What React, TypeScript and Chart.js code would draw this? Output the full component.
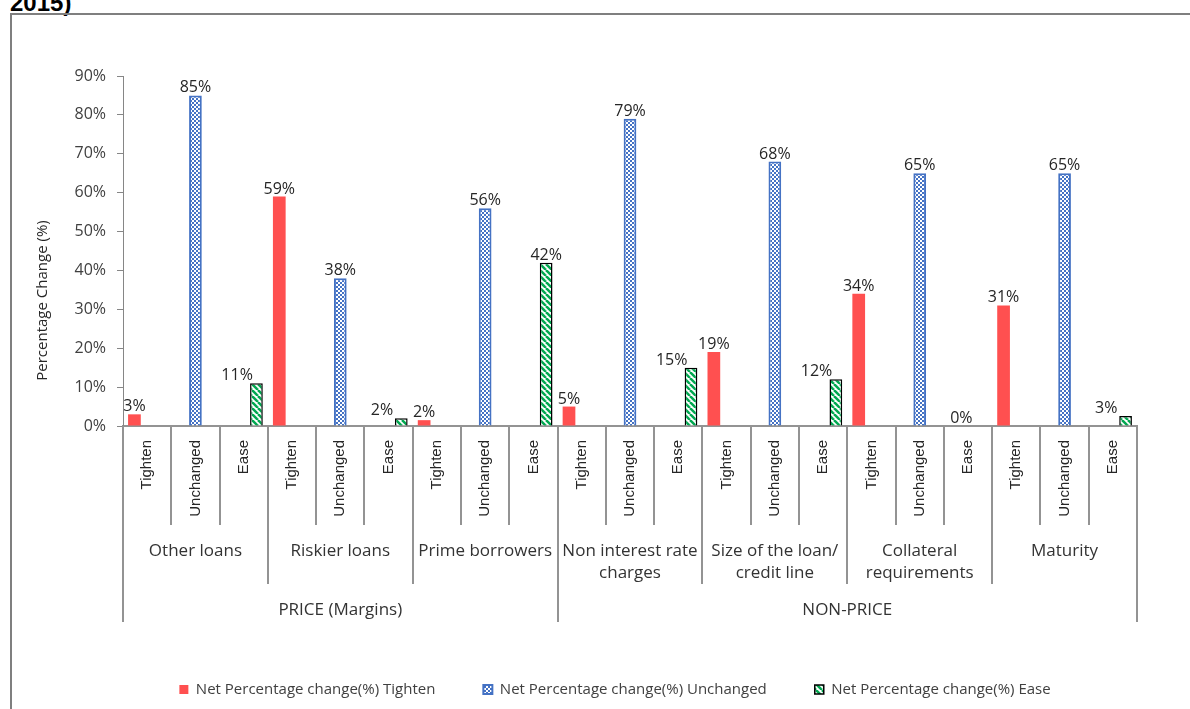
import React, { useEffect, useRef } from "react";
import { Chart, registerables } from "chart.js";

Chart.register(...registerables);

// ---- data ----
const groupLabels: string[][] = [
  ["Other loans"],
  ["Riskier loans"],
  ["Prime borrowers"],
  ["Non interest rate", "charges"],
  ["Size of the loan/", "credit line"],
  ["Collateral", "requirements"],
  ["Maturity"],
];
const subLabels = ["Tighten", "Unchanged", "Ease"];
const sectionLabels = ["PRICE (Margins)", "NON-PRICE"];
const sectionGroupCounts = [3, 4];
const tightenValues = [3, 59, 1.5, 5, 19, 34, 31];
const unchangedValues = [85, 38, 56, 79, 68, 65, 65];
const easeValues = [11, 2, 42, 15, 12, 0, 2.6];
const seriesNames = [
  "Net Percentage change(%) Tighten",
  "Net Percentage change(%) Unchanged",
  "Net Percentage change(%) Ease",
];
const yMax = 90;
const yStep = 10;
const yTitle = "Percentage Change (%)";
const headingText = "2015)";

const FONT = "'Open Sans', sans-serif";

function makeChecker(ctx: CanvasRenderingContext2D) {
  const c = document.createElement("canvas");
  c.width = 4;
  c.height = 4;
  const g = c.getContext("2d")!;
  g.fillStyle = "#4472C4";
  g.fillRect(0, 0, 4, 4);
  g.fillStyle = "#ffffff";
  g.fillRect(0, 0, 2, 2);
  g.fillRect(2, 2, 2, 2);
  return ctx.createPattern(c, "repeat")!;
}

function makeHatch(ctx: CanvasRenderingContext2D) {
  const s = 6;
  const c = document.createElement("canvas");
  c.width = s;
  c.height = s;
  const g = c.getContext("2d")!;
  g.fillStyle = "#ffffff";
  g.fillRect(0, 0, s, s);
  g.strokeStyle = "#00A850";
  g.lineWidth = 2.5;
  for (const k of [-s, 0, s]) {
    g.beginPath();
    g.moveTo(k, 0);
    g.lineTo(k + s, s);
    g.stroke();
  }
  return ctx.createPattern(c, "repeat")!;
}

export default function App() {
  const ref = useRef<HTMLCanvasElement | null>(null);

  useEffect(() => {
    const canvas = ref.current!;
    const ctx = canvas.getContext("2d")!;
    const per = subLabels.length;
    const labels = groupLabels.flatMap(() => subLabels);
    const spread = (vals: number[], slot: number) =>
      vals.flatMap((v) => subLabels.map((_, j) => (j === slot ? v : null)));

    const sectionBounds: number[] = [0];
    sectionGroupCounts.forEach((c) => sectionBounds.push(sectionBounds[sectionBounds.length - 1] + c * per));

    const multiLevel = {
      id: "multiLevel",
      afterDraw(chart: any) {
        const c: CanvasRenderingContext2D = chart.ctx;
        const x = chart.scales.x;
        const y0 = chart.chartArea.bottom;
        const n = labels.length;
        const w = (x.right - x.left) / n;
        c.save();
        c.strokeStyle = "#939393";
        c.lineWidth = 2;
        for (let i = 0; i <= n; i++) {
          const xx = Math.round(x.left + i * w);
          let yEnd = y0 + 99;
          if (sectionBounds.includes(i)) yEnd = y0 + 196;
          else if (i % per === 0) yEnd = y0 + 158;
          c.beginPath();
          c.moveTo(xx, y0);
          c.lineTo(xx, yEnd);
          c.stroke();
        }
        // rotated level-1 labels
        c.fillStyle = "#262626";
        c.font = "15px 'Liberation Sans', sans-serif";
        c.textAlign = "right";
        c.textBaseline = "middle";
        for (let i = 0; i < n; i++) {
          const cx = x.left + (i + 0.5) * w;
          c.save();
          c.translate(cx, y0 + 14);
          c.rotate(-Math.PI / 2);
          c.fillText(labels[i], 0, 0);
          c.restore();
        }
        // group labels
        c.font = `17px ${FONT}`;
        c.fillStyle = "#333333";
        c.textAlign = "center";
        c.textBaseline = "alphabetic";
        groupLabels.forEach((lines, g) => {
          const cx = x.left + (g * per + per / 2) * w;
          lines.forEach((t, li) => c.fillText(t, cx, y0 + 130 + li * 22));
        });
        // section labels
        sectionLabels.forEach((t, s) => {
          const cx = x.left + ((sectionBounds[s] + sectionBounds[s + 1]) / 2) * w;
          c.fillText(t, cx, y0 + 189);
        });
        // y axis title (centred on plot + category rows, as in the source)
        c.save();
        c.font = `15px ${FONT}`;
        c.fillStyle = "#262626";
        c.textAlign = "center";
        c.textBaseline = "middle";
        c.translate(43, (chart.chartArea.top + y0 + 99) / 2);
        c.rotate(-Math.PI / 2);
        c.fillText(yTitle, 0, 0);
        c.restore();
        c.restore();
      },
    };

    const valueLabels = {
      id: "valueLabels",
      afterDatasetsDraw(chart: any) {
        const c: CanvasRenderingContext2D = chart.ctx;
        const x = chart.scales.x;
        const w = (x.right - x.left) / labels.length;
        c.save();
        c.font = `16px ${FONT}`;
        c.fillStyle = "#262626";
        c.textAlign = "center";
        c.textBaseline = "alphabetic";
        chart.data.datasets.forEach((ds: any, di: number) => {
          const meta = chart.getDatasetMeta(di);
          meta.data.forEach((el: any, i: number) => {
            const v = ds.data[i];
            if (v === null || v === undefined) return;
            const dx = di === 2 && v < 30 ? -0.4 * w : 0;
            c.fillText(`${Math.round(v)}%`, el.x + dx, el.y - 3);
          });
        });
        c.restore();
      },
    };

    const chart = new Chart(canvas, {
      type: "bar",
      data: {
        labels,
        datasets: [
          {
            label: seriesNames[0],
            data: spread(tightenValues, 0),
            backgroundColor: "#FF5050",
            borderWidth: 0,
          },
          {
            label: seriesNames[1],
            data: spread(unchangedValues, 1),
            backgroundColor: makeChecker(ctx),
            borderColor: "#4472C4",
            borderWidth: 2,
          },
          {
            label: seriesNames[2],
            data: spread(easeValues, 2),
            backgroundColor: makeHatch(ctx),
            borderColor: "#000000",
            borderWidth: 1.5,
          },
        ] as any,
      },
      options: {
        animation: false,
        responsive: false,
        devicePixelRatio: 1,
        categoryPercentage: 0.79,
        barPercentage: 1.0,
        layout: { padding: { top: 76, right: 0, left: 40, bottom: 2 } },
        plugins: {
          legend: {
            position: "bottom",
            labels: {
              boxWidth: 9,
              boxHeight: 9,
              padding: 48,
              color: "#404040",
              font: { size: 15, family: FONT },
            },
          },
          tooltip: { enabled: false },
        },
        scales: {
          x: {
            ticks: { display: false },
            grid: { display: false },
            border: { display: true, color: "#939393", width: 2 },
            afterFit: (s: any) => {
              s.height = 208;
            },
          },
          y: {
            min: 0,
            max: yMax,
            ticks: {
              stepSize: yStep,
              padding: 11,
              color: "#404040",
              font: { size: 16, family: FONT },
              callback: (v: any) => `${v}%`,
            },
            grid: { drawOnChartArea: false, drawTicks: true, tickLength: 6, color: "#868686" },
            border: { display: true, color: "#868686", width: 1 },
            afterFit: (s: any) => {
              s.width = 83;
            },
          },
          spacer: {
            type: "linear",
            position: "right",
            display: true,
            grid: { display: false },
            ticks: { display: false },
            border: { display: false },
            afterFit: (s: any) => {
              s.width = 53;
            },
          },
        },
      } as any,
      plugins: [multiLevel, valueLabels],
    });
    return () => chart.destroy();
  }, []);

  return (
    <div
      style={{
        position: "fixed",
        left: 0,
        top: 0,
        width: 1190,
        height: 709,
        background: "#ffffff",
        overflow: "hidden",
      }}
    >
      <div
        style={{
          position: "absolute",
          left: 10,
          top: -9,
          fontFamily: "'Liberation Sans', Arial, sans-serif",
          fontWeight: "bold",
          fontSize: 24,
          lineHeight: "24px",
          textDecoration: "underline",
          color: "#000",
        }}
      >
        {headingText}
      </div>
      <div
        style={{
          position: "absolute",
          left: 10,
          top: 13,
          width: 1200,
          height: 720,
          borderLeft: "2px solid #7f7f7f",
          borderTop: "2px solid #7f7f7f",
        }}
      />
      <canvas
        ref={ref}
        width={1190}
        height={709}
        style={{ position: "absolute", left: 0, top: 0, width: 1190, height: 709 }}
      />
    </div>
  );
}
